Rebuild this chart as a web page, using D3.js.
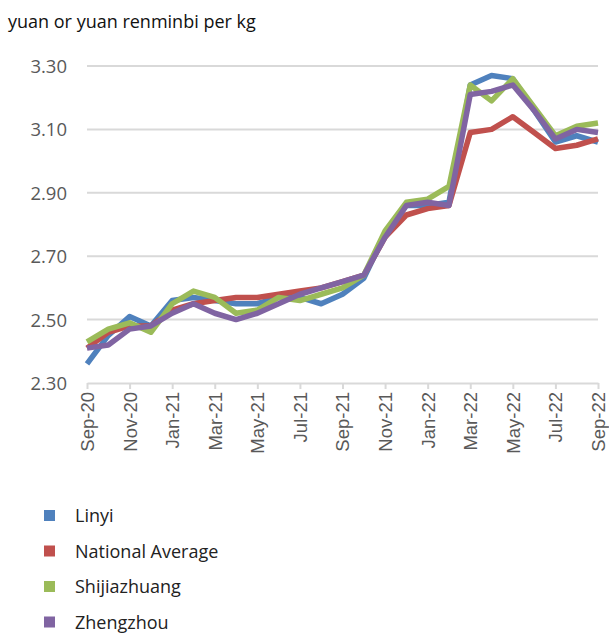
<!DOCTYPE html>
<html>
<head>
<meta charset="utf-8">
<script src="https://cdn.jsdelivr.net/npm/d3@7"></script>
<style>
  body { margin: 0; background: #fff; }
  svg { display: block; }
</style>
</head>
<body>
<svg id="chart" width="609" height="633"></svg>
<script>
// monthly prices, Sep-20 .. Sep-22
const months = ["Sep-20","Oct-20","Nov-20","Dec-20","Jan-21","Feb-21","Mar-21","Apr-21","May-21","Jun-21","Jul-21","Aug-21",
  "Sep-21","Oct-21","Nov-21","Dec-21","Jan-22","Feb-22","Mar-22","Apr-22","May-22","Jun-22","Jul-22","Aug-22","Sep-22"];
const linyi = [2.36,2.45,2.51,2.48,2.56,2.57,2.56,2.55,2.55,2.57,2.57,2.55,2.58,2.63,2.77,2.86,2.86,2.87,3.24,3.27,3.26,3.16,3.06,3.08,3.06];
const nationalAvg = [2.41,2.46,2.48,2.48,2.53,2.55,2.56,2.57,2.57,2.58,2.59,2.60,2.62,2.64,2.76,2.83,2.85,2.86,3.09,3.10,3.14,3.09,3.04,3.05,3.07];
const shijiazhuang = [2.43,2.47,2.49,2.46,2.55,2.59,2.57,2.52,2.53,2.57,2.56,2.58,2.60,2.64,2.78,2.87,2.88,2.92,3.24,3.19,3.26,3.17,3.08,3.11,3.12];
const zhengzhou = [2.41,2.42,2.47,2.48,2.52,2.55,2.52,2.50,2.52,2.55,2.58,2.60,2.62,2.64,2.76,2.86,2.87,2.86,3.21,3.22,3.24,3.16,3.07,3.10,3.09];
const yTicks = [2.30,2.50,2.70,2.90,3.10,3.30];

const series = [
  { name: "Linyi", values: linyi, color: "#4f81bd" },
  { name: "National Average", values: nationalAvg, color: "#c0504d" },
  { name: "Shijiazhuang", values: shijiazhuang, color: "#9bbb59" },
  { name: "Zhengzhou", values: zhengzhou, color: "#8064a2" }
];

const svg = d3.select("#chart");
const plot = { left: 87, right: 598, top: 66, bottom: 383 };

const x = d3.scalePoint().domain(months).range([plot.left, plot.right]);
const y = d3.scaleLinear().domain([2.30, 3.30]).range([plot.bottom, plot.top]);

svg.append("text")
  .attr("x", 8).attr("y", 28)
  .style("font-family", "Open Sans, sans-serif")
  .style("font-size", "18px")
  .style("fill", "#111")
  .text("yuan or yuan renminbi per kg");

// gridlines
svg.append("g").selectAll("line")
  .data(yTicks.slice(1))
  .join("line")
  .attr("x1", plot.left).attr("x2", plot.right)
  .attr("y1", d => y(d)).attr("y2", d => y(d))
  .style("stroke", "#d9d9d9")
  .style("stroke-width", 2);

// y labels
svg.append("g").selectAll("text")
  .data(yTicks)
  .join("text")
  .attr("x", 67).attr("y", d => y(d) + 7)
  .attr("text-anchor", "end")
  .style("font-family", "Open Sans, sans-serif")
  .style("font-size", "18.5px")
  .style("fill", "#595959")
  .text(d => d.toFixed(2));

// x axis
const labelled = months.filter((d, i) => i % 2 === 0);
const xAxis = d3.axisBottom(x).tickValues(labelled).tickSize(6).tickSizeOuter(0).tickPadding(6);
const gx = svg.append("g")
  .attr("transform", `translate(0,${plot.bottom})`)
  .call(xAxis);
gx.select(".domain").style("stroke", "#d9d9d9").style("stroke-width", 2);
gx.selectAll(".tick line").style("stroke", "#d9d9d9").style("stroke-width", 2);
gx.selectAll(".tick text")
  .attr("transform", "rotate(-90)")
  .attr("x", -9).attr("y", 0).attr("dy", "0.35em")
  .attr("text-anchor", "end")
  .style("font-family", "Liberation Sans, Arial, sans-serif")
  .style("font-size", "18.5px")
  .style("fill", "#595959");

// lines
const line = d3.line()
  .x((d, i) => x(months[i]))
  .y(d => y(d));

svg.append("g").selectAll("path")
  .data(series)
  .join("path")
  .attr("d", d => line(d.values))
  .style("fill", "none")
  .style("stroke", d => d.color)
  .style("stroke-width", 5.5)
  .style("stroke-linejoin", "round");

// legend
const lg = svg.append("g").selectAll("g")
  .data(series)
  .join("g")
  .attr("transform", (d, i) => `translate(44,${516 + i * 35.5})`);
lg.append("rect")
  .attr("x", 0).attr("y", -6).attr("width", 11).attr("height", 11)
  .style("fill", d => d.color);
lg.append("text")
  .attr("x", 31).attr("y", 6)
  .style("font-family", "Open Sans, sans-serif")
  .style("font-size", "18px")
  .style("fill", "#222")
  .text(d => d.name);
</script>
</body>
</html>
